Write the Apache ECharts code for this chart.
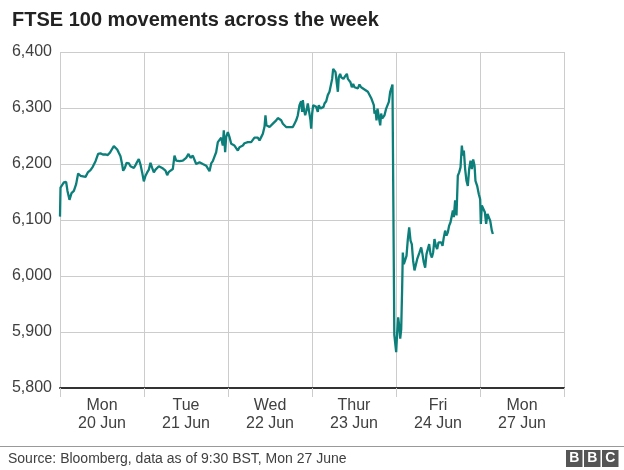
<!DOCTYPE html>
<html>
<head>
<meta charset="utf-8">
<script src="https://cdn.jsdelivr.net/npm/echarts@6/dist/echarts.min.js"></script>
<style>
html,body{margin:0;padding:0;background:#fff;}
#chart{width:624px;height:470px;}
</style>
</head>
<body>
<div id="chart"></div>
<script>
// Day labels (each band is one trading day)
const dayLabels = ['Mon\n20 Jun', 'Tue\n21 Jun', 'Wed\n22 Jun', 'Thur\n23 Jun', 'Fri\n24 Jun', 'Mon\n27 Jun'];
// y-axis ticks
const yTicks = [5800, 5900, 6000, 6100, 6200, 6300, 6400];

// Time position, in trading days from Mon 20 Jun open
const monTime = [0,0.006,0.026,0.046,0.073,0.089,0.113,0.137,0.165,0.192,0.216,0.244,0.264,0.304,0.331,0.363,0.390,0.423,0.454,0.482,0.510,0.542,0.569,0.593,0.613,0.641,0.661,0.681,0.700,0.720,0.740,0.752,0.772,0.792,0.820,0.839,0.859,0.879,0.899,0.919,0.938,0.958,0.978];
const monValue = [6106,6158,6155,6167,6168,6152,6136,6148,6152,6164,6183,6179,6176,6177,6185,6189,6195,6205,6218,6219,6217,6217,6216,6220,6225,6232,6235,6226,6220,6214,6199,6188,6193,6202,6201,6196,6199,6193,6198,6204,6209,6199,6185];

const tueTime = [0.998,1.018,1.038,1.058,1.077,1.097,1.117,1.137,1.157,1.177,1.196,1.216,1.236,1.256,1.276,1.296,1.315,1.343,1.363,1.383,1.403,1.423,1.442,1.462,1.482,1.502,1.530,1.554,1.581,1.601,1.621,1.641,1.661,1.681,1.700,1.720,1.740,1.760,1.780,1.800,1.819,1.839,1.859,1.879,1.899,1.919,1.938,1.950,1.966,1.978];
const tueValue = [6169,6179,6185,6190,6202,6193,6185,6190,6193,6196,6198,6193,6195,6188,6180,6186,6187,6191,6215,6206,6209,6205,6207,6206,6209,6211,6218,6211,6215,6213,6200,6197,6203,6206,6200,6201,6197,6194,6187,6201,6205,6213,6221,6239,6236,6247,6233,6260,6221,6248];

const wedTime = [1.998,2.018,2.038,2.058,2.077,2.097,2.117,2.137,2.157,2.177,2.196,2.216,2.236,2.256,2.276,2.296,2.315,2.335,2.355,2.375,2.395,2.415,2.435,2.446,2.458,2.474,2.494,2.514,2.534,2.554,2.574,2.593,2.613,2.633,2.653,2.673,2.692,2.712,2.732,2.752,2.772,2.792,2.812,2.831,2.851,2.871,2.883,2.891,2.903,2.919,2.935,2.950,2.966,2.982,2.990];
const wedValue = [6257,6248,6236,6236,6233,6234,6224,6230,6233,6233,6237,6236,6239,6237,6239,6242,6247,6249,6247,6242,6248,6254,6267,6287,6269,6266,6266,6267,6272,6272,6278,6282,6282,6278,6272,6269,6266,6264,6266,6263,6266,6272,6278,6287,6305,6312,6293,6314,6299,6287,6296,6308,6293,6278,6263];

const thuTime = [3.002,3.014,3.030,3.050,3.069,3.081,3.101,3.117,3.137,3.149,3.169,3.188,3.208,3.228,3.240,3.252,3.268,3.280,3.296,3.308,3.319,3.335,3.347,3.359,3.375,3.395,3.415,3.427,3.446,3.458,3.474,3.490,3.506,3.526,3.546,3.565,3.585,3.605,3.625,3.645,3.665,3.685,3.704,3.724,3.736,3.744,3.756,3.768,3.780,3.796,3.812,3.823,3.835,3.851,3.863,3.883,3.903,3.915,3.931,3.942,3.958];
const thuValue = [6290,6305,6308,6302,6293,6305,6299,6296,6302,6308,6312,6323,6329,6331,6352,6370,6367,6364,6343,6329,6355,6361,6355,6358,6352,6357,6361,6352,6355,6346,6337,6343,6337,6339,6335,6342,6337,6339,6333,6330,6329,6326,6318,6317,6305,6290,6296,6278,6299,6284,6269,6290,6281,6284,6287,6299,6296,6311,6329,6334,6342];

const friTime = [3.980,4.002,4.014,4.026,4.038,4.050,4.062,4.073,4.081,4.093,4.109,4.125,4.141,4.157,4.173,4.188,4.204,4.220,4.240,4.252,4.268,4.280,4.300,4.315,4.331,4.347,4.363,4.379,4.395,4.411,4.427,4.442,4.458,4.474,4.490,4.506,4.522,4.538,4.554,4.569,4.585,4.601,4.617,4.633,4.649,4.665,4.677,4.688,4.704,4.720,4.736,4.752,4.768,4.784,4.796,4.808,4.823,4.839,4.855,4.871,4.887,4.903,4.919,4.935,4.946,4.966,4.986];
const friValue = [5895,5864,5899,5926,5911,5888,5905,5977,6042,6021,6024,6036,6066,6087,6063,6057,6027,6010,6007,6030,6033,6042,6051,6039,6024,6015,6039,6048,6057,6039,6033,6042,6066,6054,6048,6060,6057,6060,6054,6069,6081,6072,6078,6090,6096,6099,6117,6105,6135,6108,6179,6185,6194,6233,6215,6224,6191,6170,6161,6191,6206,6191,6208,6197,6170,6161,6146];

const mon27Time = [5.002,5.010,5.022,5.042,5.058,5.073,5.089,5.105,5.121,5.141,5.153];
const mon27Value = [6137,6093,6126,6123,6114,6093,6111,6114,6099,6081,6075];

const allTime = [].concat(monTime, tueTime, wedTime, thuTime, friTime, mon27Time);
const allValue = [].concat(monValue, tueValue, wedValue, thuValue, friValue, mon27Value);
const seriesData = allTime.map((t, i) => [t, allValue[i]]);

const FONT = '"Liberation Sans", Arial, Helvetica, sans-serif';
const chart = echarts.init(document.getElementById('chart'), null, {renderer: 'canvas'});
chart.setOption({
  animation: false,
  backgroundColor: '#fff',
  title: {
    text: 'FTSE 100 movements across the week',
    left: 7, top: 5,
    textStyle: {fontFamily: FONT, fontSize: 20, fontWeight: 'bold', color: '#222'}
  },
  grid: {left: 60, right: 60, top: 52, bottom: 82, containLabel: false},
  xAxis: [{
    type: 'value', min: 0, max: dayLabels.length, interval: 1,
    axisLabel: {show: false},
    axisLine: {show: true, lineStyle: {color: '#333', width: 2}},
    axisTick: {show: true, length: 9, lineStyle: {color: '#ccc', width: 1}},
    splitLine: {show: true, lineStyle: {color: '#ccc', width: 1}}
  }, {
    type: 'category', data: dayLabels, position: 'bottom', boundaryGap: true,
    axisLine: {show: false}, axisTick: {show: false}, splitLine: {show: false},
    axisLabel: {margin: 9, fontFamily: FONT, fontSize: 16, lineHeight: 18, color: '#404040'}
  }],
  yAxis: {
    type: 'value', min: yTicks[0], max: yTicks[yTicks.length - 1], interval: 100,
    axisLine: {show: false}, axisTick: {show: false},
    splitLine: {show: true, lineStyle: {color: '#ccc', width: 1}},
    axisLabel: {margin: 8, fontFamily: FONT, fontSize: 16, color: '#404040',
      formatter: v => v.toLocaleString('en-US')}
  },
  series: [{
    type: 'line', xAxisIndex: 0, data: seriesData, showSymbol: false,
    lineStyle: {color: '#0d7f7a', width: 2.3}, itemStyle: {color: '#0d7f7a'}, z: 5
  }],
  graphic: [
    {type: 'line', shape: {x1: 0, y1: 446.5, x2: 624, y2: 446.5}, style: {stroke: '#999', lineWidth: 1}},
    {type: 'text', left: 8, top: 452, style: {text: 'Source: Bloomberg, data as of 9:30 BST, Mon 27 June', font: '14px ' + FONT, fill: '#404040'}},
    {type: 'rect', shape: {x: 566, y: 450, width: 16.5, height: 17}, style: {fill: '#555'}},
    {type: 'rect', shape: {x: 584, y: 450, width: 16.5, height: 17}, style: {fill: '#555'}},
    {type: 'rect', shape: {x: 602, y: 450, width: 16.5, height: 17}, style: {fill: '#555'}},
    {type: 'text', x: 574.25, y: 458.5, style: {text: 'B', font: 'bold 14px ' + FONT, fill: '#fff', align: 'center', verticalAlign: 'middle'}},
    {type: 'text', x: 592.25, y: 458.5, style: {text: 'B', font: 'bold 14px ' + FONT, fill: '#fff', align: 'center', verticalAlign: 'middle'}},
    {type: 'text', x: 610.25, y: 458.5, style: {text: 'C', font: 'bold 14px ' + FONT, fill: '#fff', align: 'center', verticalAlign: 'middle'}}
  ]
});
</script>
</body>
</html>
